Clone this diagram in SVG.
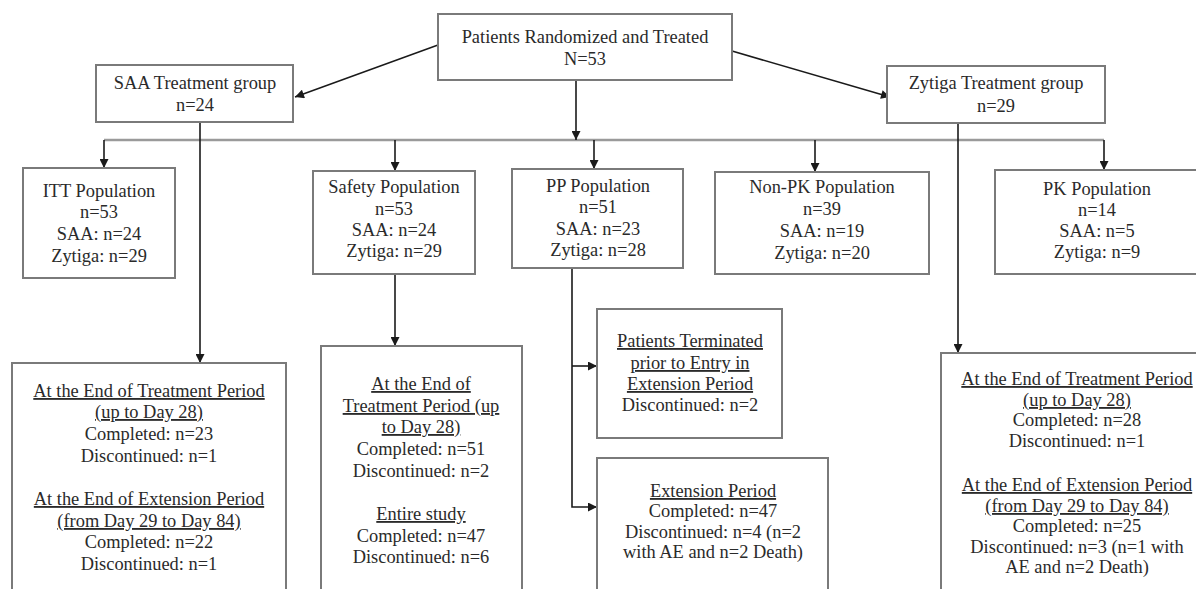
<svg xmlns="http://www.w3.org/2000/svg" width="1196" height="589" viewBox="0 0 1196 589">
<defs>
<marker id="ah" viewBox="0 0 10 10" refX="10" refY="5" markerUnits="userSpaceOnUse" markerWidth="10" markerHeight="9" orient="auto">
<path d="M0,0 L10,5 L0,10 z" fill="#1a1a1a"/>
</marker>
</defs>
<style>
.box{fill:#ffffff;stroke:#7a7a7a;stroke-width:2}
.t{font-family:"Liberation Serif","Times New Roman",serif;font-size:18.4px;fill:#2a2a2a;text-anchor:middle}
.u{text-decoration:underline}
.c{fill:none;stroke:#1a1a1a;stroke-width:1.6}
.bus{fill:none;stroke:#9a9a9a;stroke-width:2.4}
</style>
<rect width="1196" height="589" fill="#ffffff"/>

<g id="connectors">
<line class="bus" x1="104" y1="140" x2="1104" y2="140"/>
<line class="c" x1="576" y1="80" x2="576" y2="140" marker-end="url(#ah)"/>
<line class="c" x1="438" y1="45" x2="295" y2="97" marker-end="url(#ah)"/>
<line class="c" x1="732" y1="51" x2="890" y2="97" marker-end="url(#ah)"/>
<line class="c" x1="104" y1="140" x2="104" y2="168" marker-end="url(#ah)"/>
<line class="c" x1="395" y1="140" x2="395" y2="171" marker-end="url(#ah)"/>
<line class="c" x1="594" y1="140" x2="594" y2="169" marker-end="url(#ah)"/>
<line class="c" x1="815" y1="140" x2="815" y2="172" marker-end="url(#ah)"/>
<line class="c" x1="1104" y1="140" x2="1104" y2="170" marker-end="url(#ah)"/>
<line class="c" x1="200" y1="122" x2="200" y2="363" marker-end="url(#ah)"/>
<line class="c" x1="958" y1="123" x2="958" y2="353" marker-end="url(#ah)"/>
<line class="c" x1="395" y1="274" x2="395" y2="346" marker-end="url(#ah)"/>
<polyline class="c" points="572,268 572,507 597,507" marker-end="url(#ah)"/>
<line class="c" x1="572" y1="366" x2="597" y2="366" marker-end="url(#ah)"/>
</g>

<g id="node-randomized">
<rect class="box" x="438" y="14" width="294" height="66"/>
<text class="t" x="585" y="43">Patients Randomized and Treated</text>
<text class="t" x="585" y="65">N=53</text>
</g>

<g id="node-saa-group">
<rect class="box" x="96" y="65" width="197" height="57"/>
<text class="t" x="195" y="89">SAA Treatment group</text>
<text class="t" x="195" y="111">n=24</text>
</g>

<g id="node-zytiga-group">
<rect class="box" x="887" y="66" width="218" height="57"/>
<text class="t" x="996" y="89">Zytiga Treatment group</text>
<text class="t" x="996" y="112">n=29</text>
</g>

<g id="node-itt">
<rect class="box" x="23" y="168" width="152" height="110"/>
<text class="t" x="99" y="197">ITT Population</text>
<text class="t" x="99" y="218">n=53</text>
<text class="t" x="99" y="240">SAA: n=24</text>
<text class="t" x="99" y="262">Zytiga: n=29</text>
</g>

<g id="node-safety">
<rect class="box" x="313" y="171" width="162" height="103"/>
<text class="t" x="394" y="193">Safety Population</text>
<text class="t" x="394" y="215">n=53</text>
<text class="t" x="394" y="236">SAA: n=24</text>
<text class="t" x="394" y="257">Zytiga: n=29</text>
</g>

<g id="node-pp">
<rect class="box" x="512" y="169" width="171" height="99"/>
<text class="t" x="598" y="192">PP Population</text>
<text class="t" x="598" y="213">n=51</text>
<text class="t" x="598" y="235">SAA: n=23</text>
<text class="t" x="598" y="256">Zytiga: n=28</text>
</g>

<g id="node-nonpk">
<rect class="box" x="715" y="172" width="214" height="102"/>
<text class="t" x="822" y="193">Non-PK Population</text>
<text class="t" x="822" y="215">n=39</text>
<text class="t" x="822" y="237">SAA: n=19</text>
<text class="t" x="822" y="259">Zytiga: n=20</text>
</g>

<g id="node-pk">
<rect class="box" x="995" y="170" width="204" height="104"/>
<text class="t" x="1097" y="195">PK Population</text>
<text class="t" x="1097" y="216">n=14</text>
<text class="t" x="1097" y="237">SAA: n=5</text>
<text class="t" x="1097" y="258">Zytiga: n=9</text>
</g>

<g id="node-saa-detail">
<rect class="box" x="12" y="363" width="274" height="240"/>
<text class="t u" x="149" y="397">At the End of Treatment Period</text>
<text class="t u" x="149" y="418">(up to Day 28)</text>
<text class="t" x="149" y="440">Completed: n=23</text>
<text class="t" x="149" y="462">Discontinued: n=1</text>
<text class="t u" x="149" y="505">At the End of Extension Period</text>
<text class="t u" x="149" y="527">(from Day 29 to Day 84)</text>
<text class="t" x="149" y="548">Completed: n=22</text>
<text class="t" x="149" y="570">Discontinued: n=1</text>
</g>

<g id="node-safety-detail">
<rect class="box" x="321" y="346" width="201" height="257"/>
<text class="t u" x="421" y="390">At the End of</text>
<text class="t u" x="421" y="412">Treatment Period (up</text>
<text class="t u" x="421" y="433">to Day 28)</text>
<text class="t" x="421" y="455">Completed: n=51</text>
<text class="t" x="421" y="477">Discontinued: n=2</text>
<text class="t u" x="421" y="520">Entire study</text>
<text class="t" x="421" y="542">Completed: n=47</text>
<text class="t" x="421" y="563">Discontinued: n=6</text>
</g>

<g id="node-terminated">
<rect class="box" x="597" y="309" width="185" height="129"/>
<text class="t u" x="690" y="347">Patients Terminated</text>
<text class="t u" x="690" y="369">prior to Entry in</text>
<text class="t u" x="690" y="390">Extension Period</text>
<text class="t" x="690" y="411">Discontinued: n=2</text>
</g>

<g id="node-extension">
<rect class="box" x="597" y="458" width="231" height="145"/>
<text class="t u" x="713" y="497">Extension Period</text>
<text class="t" x="713" y="517">Completed: n=47</text>
<text class="t" x="713" y="538">Discontinued: n=4 (n=2</text>
<text class="t" x="713" y="558">with AE and n=2 Death)</text>
</g>

<g id="node-zytiga-detail">
<rect class="box" x="941" y="353" width="272" height="250"/>
<text class="t u" x="1077" y="385">At the End of Treatment Period</text>
<text class="t u" x="1077" y="406">(up to Day 28)</text>
<text class="t" x="1077" y="426">Completed: n=28</text>
<text class="t" x="1077" y="447">Discontinued: n=1</text>
<text class="t u" x="1077" y="491">At the End of Extension Period</text>
<text class="t u" x="1077" y="512">(from Day 29 to Day 84)</text>
<text class="t" x="1077" y="532">Completed: n=25</text>
<text class="t" x="1077" y="553">Discontinued: n=3 (n=1 with</text>
<text class="t" x="1077" y="573">AE and n=2 Death)</text>
</g>
</svg>
